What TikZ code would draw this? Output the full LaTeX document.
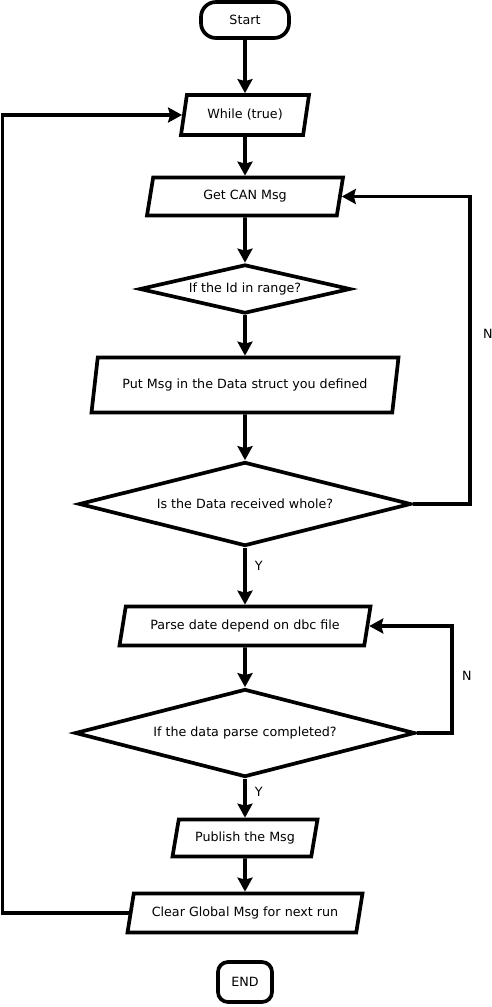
\documentclass[tikz,border=0pt]{standalone}
\usepackage{fontspec}
\setmainfont{DejaVu Sans}
\usetikzlibrary{shapes.geometric, arrows.meta}

\begin{document}
\begin{tikzpicture}[x=1pt, y=-1pt, font=\fontsize{12.7}{15}\selectfont]

\tikzset{terminal/.style = {shape=rectangle,draw,line width=3.7pt,rounded corners=15pt,minimum width=88pt,minimum height=36pt}}
\tikzset{io/.style = {shape=trapezium,trapezium left angle=69,trapezium right angle=111,trapezium stretches body,draw,line width=3.7pt,inner sep=2pt}}
\tikzset{decision/.style = {shape=diamond,aspect=4,draw,line width=3.7pt,inner sep=0pt}}
\tikzset{edge/.style = {line width=3.7pt,-{Stealth[length=14pt,width=15pt,inset=2pt]}}}
\useasboundingbox (0,0) rectangle (492,1007);
%verticies
\node[terminal] (1) at (245,20) {Start};
\node[io, minimum width=128pt, minimum height=40pt] (2) at (245,115) {While (true)};
\node[io, minimum width=196pt, minimum height=38pt] (3) at (245,196.5) {Get CAN Msg};
\node[decision, minimum width=211pt, minimum height=49pt] (4) at (245,289) {If the Id in range?};
\node[io, minimum width=307pt, minimum height=55pt] (5) at (245,385) {Put Msg in the Data struct you defined};
\node[decision, minimum width=332pt, minimum height=84pt] (6) at (245,504) {Is the Data received whole?};
\node[io, minimum width=251pt, minimum height=39pt] (7) at (245,626) {Parse date depend on dbc file};
\node[decision, minimum width=340pt, minimum height=88pt] (8) at (245,733) {If the data parse completed?};
\node[io, minimum width=145pt, minimum height=37pt] (9) at (245,838) {Publish the Msg};
\node[io, minimum width=235pt, minimum height=39pt] (10) at (245,913) {Clear Global Msg for next run};
\node[terminal, rounded corners=10pt, minimum width=54pt, minimum height=40pt] (11) at (245,982) {END};
\coordinate (left) at (2.5,0);
%edges
\draw[edge] (1) -- (2);
\draw[edge] (2) -- (3);
\draw[edge] (3) -- (4);
\draw[edge] (4) -- (5);
\draw[edge] (5) -- (6);
\draw[edge] (6) -- (7) node[pos=0.31, right=4.7pt] {Y};
\draw[edge] (6.east) -- ++(57,0) |- (3.east) node[pos=0.277, right=8pt] {N};
\draw[edge] (7) -- (8);
\draw[edge] (8) -- (9) node[pos=0.33, right=4.7pt] {Y};
\draw[edge] (8.east) -- ++(35,0) |- (7.east) node[pos=0.266, right=5pt] {N};
\draw[edge] (9) -- (10);
\draw[edge] (10.west) -- (10.west -| left) |- (2.west);

\end{tikzpicture}
\end{document}
